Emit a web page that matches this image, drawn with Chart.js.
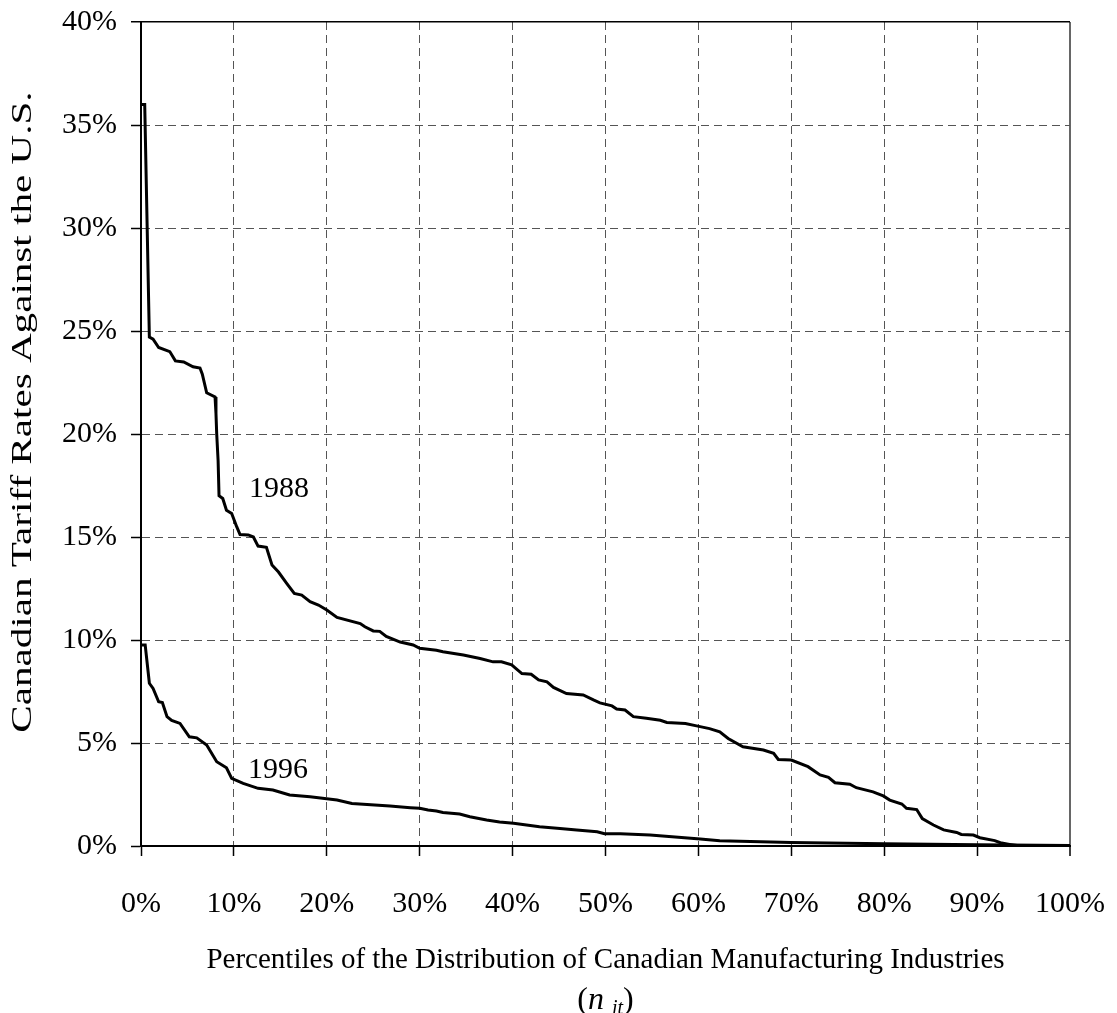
<!DOCTYPE html>
<html>
<head>
<meta charset="utf-8">
<script src="https://cdn.jsdelivr.net/npm/chart.js@4.4.1/dist/chart.umd.min.js"></script>
<style>
  body { margin: 0; background: #fff; }
  #wrap { width: 1117px; height: 1013px; position: relative; }
</style>
</head>
<body>
<div id="wrap"><canvas id="tariffs"></canvas></div>
<script>
// percentile of industries (x) and tariff rate in % (y)
const pct1988 = [0.1, 0.4, 0.9, 1.3, 1.9, 3.1, 3.7, 4.6, 5.6, 6.35, 6.6, 7.07, 7.97, 8.07, 8.15, 8.3, 8.4, 8.8, 9.2, 9.76,
  10.3, 10.66, 11.55, 12.1, 12.6, 13.5, 14.1, 14.8, 15.7, 16.5, 17.3, 18.2, 19.1, 20.0, 21.1, 23.6, 24.1, 25.0, 25.7, 26.4,
  27.9, 29.3, 30.0, 31.8, 32.5, 34.7, 36.5, 37.9, 38.8, 39.9, 40.4, 41.0, 42.0, 42.8, 43.7, 44.4, 45.8, 47.6, 48.7, 49.4,
  50.7, 51.2, 52.1, 53.0, 54.4, 55.9, 56.6, 58.6, 59.8, 61.2, 62.3, 63.2, 64.8, 67.0, 68.1, 68.6, 70.0, 71.8, 73.1, 74.0,
  74.7, 76.3, 77.0, 78.8, 79.9, 80.6, 81.9, 82.4, 83.5, 84.1, 85.3, 86.4, 87.8, 88.3, 89.6, 90.3, 91.9, 92.5, 93.5, 94.3, 100];
const rate1988 = [36.0, 36.0, 24.7, 24.6, 24.2, 24.0, 23.55, 23.5, 23.26, 23.2, 22.9, 22.0, 21.8, 21.0, 20.0, 18.7, 17.0, 16.87, 16.3, 16.14,
  15.5, 15.12, 15.1, 15.0, 14.56, 14.5, 13.64, 13.3, 12.74, 12.26, 12.18, 11.86, 11.7, 11.46, 11.1, 10.8, 10.64, 10.44, 10.42, 10.17,
  9.9, 9.76, 9.6, 9.5, 9.43, 9.27, 9.1, 8.94, 8.94, 8.79, 8.6, 8.37, 8.34, 8.06, 7.97, 7.7, 7.4, 7.33, 7.09, 6.95,
  6.8, 6.65, 6.6, 6.28, 6.2, 6.1, 6.0, 5.95, 5.83, 5.7, 5.54, 5.22, 4.82, 4.66, 4.5, 4.2, 4.17, 3.85, 3.45, 3.33,
  3.07, 3.0, 2.83, 2.63, 2.43, 2.23, 2.04, 1.83, 1.77, 1.33, 1.02, 0.78, 0.66, 0.56, 0.53, 0.4, 0.26, 0.16, 0.08, 0.02, 0];

const pct1996 = [0.1, 0.45, 0.9, 1.3, 1.9, 2.3, 2.8, 3.3, 4.2, 5.2, 6.0, 7.07, 8.15, 9.2, 9.76, 11.0, 12.6, 14.2, 16.0, 18.2,
  21.1, 22.7, 26.8, 29.0, 30.0, 30.9, 31.8, 32.5, 34.3, 35.4, 37.2, 38.6, 40.1, 41.5, 42.9, 45.1, 46.9, 49.1, 49.9, 51.6,
  54.8, 60.2, 62.3, 70, 80, 90, 100];
const rate1996 = [9.76, 9.76, 7.9, 7.65, 7.0, 6.96, 6.28, 6.1, 5.95, 5.3, 5.25, 4.9, 4.09, 3.8, 3.28, 3.04, 2.8, 2.72, 2.48, 2.39,
  2.23, 2.06, 1.94, 1.86, 1.83, 1.75, 1.7, 1.63, 1.55, 1.42, 1.26, 1.17, 1.1, 1.02, 0.93, 0.85, 0.78, 0.69, 0.6, 0.59,
  0.53, 0.34, 0.26, 0.17, 0.11, 0.06, 0.02];

const xTicks = [0, 10, 20, 30, 40, 50, 60, 70, 80, 90, 100];
const yTicks = [0, 5, 10, 15, 20, 25, 30, 35, 40];
// curve labels: [text, x pct, y rate]
const curveLabels = [['1988', 14.85, 17.3], ['1996', 14.75, 3.7]];
const yTitle = 'Canadian Tariff Rates Against the U.S.';

const serif = 'Liberation Serif, "Times New Roman", serif';
const toPoints = (xs, ys) => xs.map((x, i) => ({x: x, y: ys[i]}));

const labelPlugin = {
  id: 'curveLabels',
  afterDraw(chart) {
    const c = chart.ctx, xs = chart.scales.x, ys = chart.scales.y;
    c.save();
    c.fillStyle = '#000';
    c.font = '30px ' + serif;
    c.textAlign = 'center';
    c.textBaseline = 'middle';
    curveLabels.forEach(l => c.fillText(l[0], xs.getPixelForValue(l[1]), ys.getPixelForValue(l[2])));

    // y title, the source text is drawn tall and narrow
    c.save();
    c.translate(ys.left + 23, (chart.chartArea.top + chart.chartArea.bottom) / 2 - 22);
    c.rotate(-Math.PI / 2);
    c.scale(1.37, 1);
    c.fillText(yTitle, 0, 0);
    c.restore();

    // second line of x title: (n_it)
    const cx = (chart.chartArea.left + chart.chartArea.right) / 2;
    const cy = xs.bottom - 4;
    c.textBaseline = 'alphabetic';
    c.textAlign = 'left';
    c.font = 'italic 32px ' + serif;
    const wn = c.measureText('n ').width;
    c.font = 'italic 20px ' + serif;
    const wit = c.measureText('it').width;
    c.font = '32px ' + serif;
    const wp = c.measureText('(').width;
    let x = cx - (wp * 2 + wn + wit) / 2;
    c.fillText('(', x, cy); x += wp;
    c.font = 'italic 32px ' + serif;
    c.fillText('n', x, cy); x += wn;
    c.font = 'italic 20px ' + serif;
    c.fillText('it', x, cy + 5); x += wit;
    c.font = '32px ' + serif;
    c.fillText(')', x, cy);
    c.restore();
  }
};

const ctx = document.getElementById('tariffs').getContext('2d');

const myChart = new Chart(ctx, {
  type: 'line',
  data: {
    datasets: [
      {
        label: '1988',
        data: toPoints(pct1988, rate1988),
        borderColor: '#000',
        borderWidth: 3,
        pointRadius: 0,
        tension: 0,
      },
      {
        label: '1996',
        data: toPoints(pct1996, rate1996),
        borderColor: '#000',
        borderWidth: 3,
        pointRadius: 0,
        tension: 0,
      },
    ],
  },
  options: {
    responsive: true,
    maintainAspectRatio: false,
    animation: false,
    layout: { padding: { top: 22, right: 47, left: 0, bottom: 0 } },
    plugins: { legend: { display: false }, tooltip: { enabled: false } },
    scales: {
      x: {
        type: 'linear',
        min: 0,
        max: 100,
        afterBuildTicks: s => { s.ticks = xTicks.map(v => ({value: v})); },
        afterFit: s => { s.height = 167; s.paddingLeft = 0; s.paddingRight = 0; },
        ticks: {
          callback: v => v + '%',
          color: '#000',
          font: { family: serif, size: 30 },
          padding: 30,
          maxRotation: 0,
        },
        grid: {
          color: c => (c.tick && c.tick.value === 100) ? '#666' : '#555',
          lineWidth: c => (c.tick && c.tick.value === 100) ? 2 : 1,
          tickLength: 10,
          tickColor: '#000',
          tickWidth: 1.5,
          tickBorderDash: [],
        },
        border: {
          color: '#000',
          width: 2,
          dash: c => (c.tick && c.tick.value === 100) ? [] : [8, 5],
        },
        title: {
          display: true,
          text: 'Percentiles of the Distribution of Canadian Manufacturing Industries',
          color: '#000',
          font: { family: serif, size: 29 },
          padding: { top: 0, bottom: 35 },
        },
      },
      y: {
        min: 0,
        max: 40,
        afterBuildTicks: s => { s.ticks = yTicks.map(v => ({value: v})); },
        afterFit: s => { s.width = 141; s.paddingTop = 0; s.paddingBottom = 0; },
        ticks: {
          callback: v => v + '%',
          color: '#000',
          font: { family: serif, size: 30 },
          padding: 14,
        },
        grid: {
          color: c => (c.tick && c.tick.value === 40) ? '#000' : '#555',
          lineWidth: c => (c.tick && c.tick.value === 40) ? 1.5 : 1,
          tickLength: 10,
          tickColor: '#000',
          tickWidth: 1.5,
          tickBorderDash: [],
        },
        border: {
          color: '#000',
          width: 2,
          dash: c => (c.tick && c.tick.value === 40) ? [] : [8, 5],
        },
      },
    },
  },
  plugins: [labelPlugin],
});
</script>
</body>
</html>
